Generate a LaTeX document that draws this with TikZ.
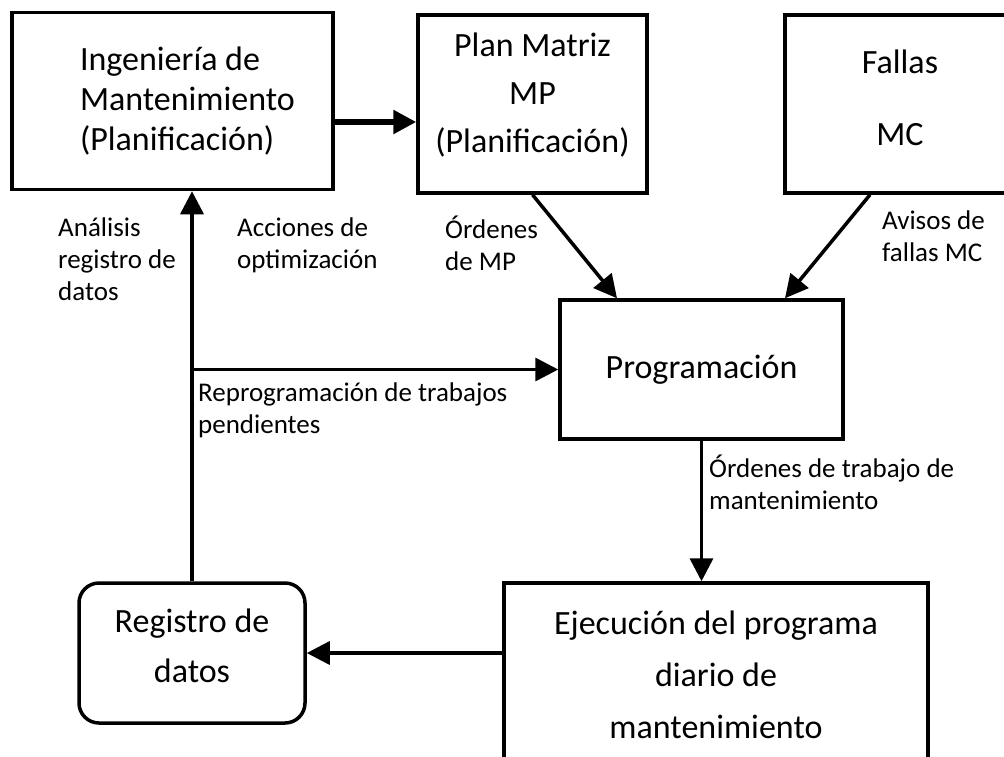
\documentclass[tikz,border=0pt]{standalone}
\usepackage{fontspec}
\setmainfont{Carlito}
\usetikzlibrary{arrows.meta}
\tikzset{
	block/.style = {draw, line width=3.5pt, inner sep=0pt, align=center,
		font=\fontsize{34}{40}\selectfont},
	note/.style = {inner sep=0pt, anchor=north west, align=left,
		font=\fontsize{27}{32}\selectfont},
	flow/.style = {line width=3.5pt, -{Triangle[length=23pt, width=23pt]}},
}
\begin{document}
\begin{tikzpicture}[x=1pt, y=-1pt]
	\useasboundingbox (0,0) rectangle (1004,756);
	% boxes
	\node[block, text width=185pt, align=flush left, minimum width=321pt, minimum height=177pt] (ingenieria) at (172.5,101)
		{Ingeniería de\\Mantenimiento\\(Planificación)};
	\node[block, minimum width=229pt, minimum height=178pt, text depth=22pt,
		font=\fontsize{34}{48}\selectfont] (plan) at (532.5,104)
		{Plan Matriz\\MP\\(Planificación)};
	\node[block, minimum width=230pt, minimum height=178pt, text depth=12pt] (fallas) at (900,104)
		{Fallas\\[32pt]MC};
	\node[block, minimum width=283pt, minimum height=139pt] (programacion) at (701.5,369.5)
		{Programación};
	\node[block, minimum width=424pt, minimum height=184pt,
		font=\fontsize{34}{52}\selectfont] (ejecucion) at (716,675)
		{Ejecución del programa\\diario de\\mantenimiento};
	\node[block, rounded corners=20pt, minimum width=226pt, minimum height=140pt, text depth=14pt,
		font=\fontsize{34}{50}\selectfont] (registro) at (192,653)
		{Registro de\\datos};
	% labels
	\node[note] (analisis) at (58,218) {Análisis\\registro de\\datos};
	\node[note] (acciones) at (237,218) {Acciones de\\optimización};
	\node[note] (ordenesmp) at (445,216) {Órdenes\\de MP};
	\node[note] (avisos) at (882,211) {Avisos de\\fallas MC};
	\node[note] (reprog) at (198,383) {Reprogramación de trabajos\\pendientes};
	\node[note] (ordenestrab) at (709,455) {Órdenes de trabajo de\\mantenimiento};
	% connectors
	\draw[flow, line width=5.5pt] (ingenieria.east |- 0,122) -- (plan.west |- 0,122);
	\draw[flow] (registro.north) -- (registro.north |- ingenieria.south);
	\draw[flow] (registro.north |- programacion.west) -- (programacion.west);
	\draw[flow] (plan.south) -- (programacion.north -| 617,0);
	\draw[flow] (fallas.south -| 870,0) -- (programacion.north -| 785,0);
	\draw[flow] (programacion.south) -- (programacion.south |- ejecucion.north);
	\draw[flow] (ejecucion.west |- registro.east) -- (registro.east);
\end{tikzpicture}
\end{document}
